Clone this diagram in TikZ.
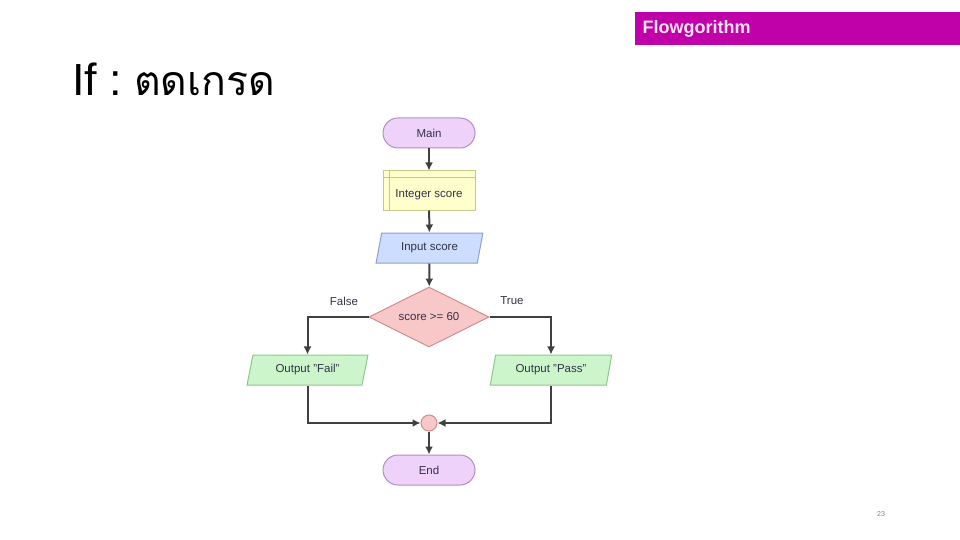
\documentclass[tikz,border=0pt]{standalone}
\usepackage{fontspec}
\setmainfont{Liberation Sans}
\newfontfamily\thaifont[Script=Thai]{Loma}
\usetikzlibrary{shapes.geometric}
\usetikzlibrary{arrows.meta}
\usetikzlibrary{calc}

\definecolor{barmag}{RGB}{192,0,168}
\definecolor{termfill}{RGB}{238,210,250}
\definecolor{termline}{RGB}{180,140,200}
\definecolor{declfill}{RGB}{255,255,204}
\definecolor{declline}{RGB}{200,200,140}
\definecolor{infill}{RGB}{204,221,255}
\definecolor{inline}{RGB}{140,160,210}
\definecolor{condfill}{RGB}{248,200,200}
\definecolor{condline}{RGB}{210,140,140}
\definecolor{outfill}{RGB}{204,245,204}
\definecolor{outline}{RGB}{140,200,140}
\definecolor{flowline}{RGB}{64,64,64}
\definecolor{boxtext}{RGB}{50,50,70}

\tikzset{
  boxfont/.style={font=\fontsize{11.5}{13}\selectfont, text=boxtext},
  terminal/.style={draw=termline, fill=termfill, line width=1pt, rounded corners=15pt, minimum width=92pt, minimum height=30pt, inner sep=0pt, boxfont},
  declare/.style={draw=declline, fill=declfill, line width=1pt, minimum width=92pt, minimum height=39pt, inner sep=0pt},
  io/.style={draw=#1line, fill=#1fill, line width=1pt, trapezium, trapezium left angle=72, trapezium right angle=108, trapezium stretches=true, minimum height=30pt, inner sep=0pt, boxfont},
  decision/.style={draw=condline, fill=condfill, line width=1pt, diamond, aspect=2, minimum width=120pt, minimum height=60pt, inner sep=0pt, boxfont},
  flow/.style={draw=flowline, line width=2pt, -{Latex[length=8pt,width=8pt]}},
  branch/.style={boxfont}
}

\begin{document}
\begin{tikzpicture}[x=1pt, y=-1pt]
\useasboundingbox (0,0) rectangle (960,540);
% header
\fill[barmag] (635,12) rectangle (960,45);
\node[anchor=west, text=white!90!barmag, font=\bfseries\fontsize{18}{20}\selectfont] (head) at (639,29) {Flowgorithm};
\node[anchor=base west, inner sep=0pt, font=\fontsize{45}{48}\selectfont] (title) at (72,96) {If :\hspace{12pt}{\thaifont\fontsize{41}{46}\selectfont ตดเกรด}};

% flowchart
\node[terminal] (main) at (429,133) {Main};
\node[declare] (score) at (429,190.5) {};
\draw[declline, line width=1pt] ([xshift=7pt]score.north west) -- ([xshift=7pt]score.south west);
\draw[declline, line width=1pt] ([yshift=-7pt]score.north west) -- ([yshift=-7pt]score.north east);
\node[boxfont] (scoretext) at ([yshift=-4pt]score.center) {Integer score};
\node[io=in, minimum width=107pt] (input) at (429.5,248) {Input score};
\node[decision] (cond) at (429,317) {score >= 60};
\node[io=out, minimum width=121pt] (fail) at (307.5,370) {Output "Fail"};
\node[io=out, minimum width=122pt] (pass) at (551,370) {Output "Pass"};
\node[circle, draw=condline, fill=condfill, line width=1pt, minimum size=16pt, inner sep=0pt] (merge) at (429,423) {};
\node[terminal] (end) at (429,470) {End};

\draw[flow] (main) -- (score);
\draw[flow] (score) -- (input);
\draw[flow] (input) -- (cond);
\draw[flow] (cond.west) -| (fail.north);
\draw[flow] (cond.east) -| (pass.north);
\draw[flow] (fail.south) |- (merge.west);
\draw[flow] (pass.south) |- (merge.east);
\draw[flow] (merge) -- (end);
\node[branch] (no) at (344,301) {False};
\node[branch] (yes) at (512,301) {True};

% page number
\node[text=gray, font=\fontsize{7}{8}\selectfont] (page) at (881,514) {23};
\end{tikzpicture}
\end{document}
